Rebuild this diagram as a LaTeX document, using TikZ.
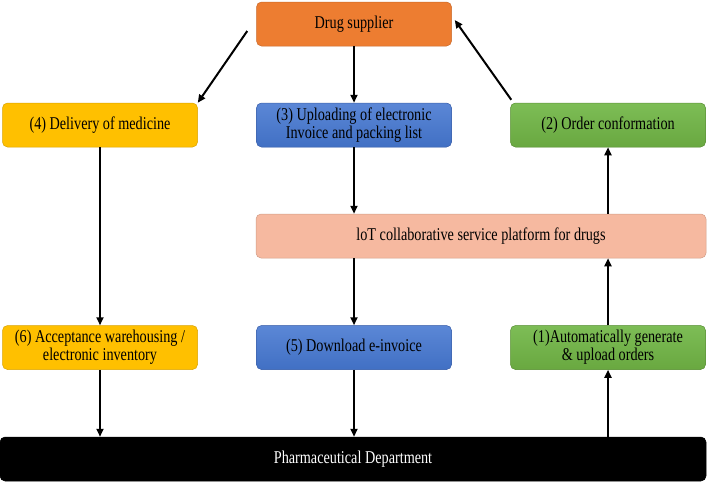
\documentclass[tikz,border=0pt]{standalone}
\usepackage{fontspec}
\setmainfont{Liberation Serif}[FakeStretch=0.79]
\usetikzlibrary{arrows.meta}
\definecolor{corange}{HTML}{ED7D31}
\definecolor{cyellow}{HTML}{FFC000}
\definecolor{cblue}{HTML}{4A74C9}
\definecolor{cbluetop}{HTML}{5B87D6}
\definecolor{cbluebot}{HTML}{4170C4}
\definecolor{cgreen}{HTML}{70AD47}
\definecolor{cgreentop}{HTML}{7DBD56}
\definecolor{cgreenbot}{HTML}{69A840}
\definecolor{csalmon}{HTML}{F6B9A0}
\begin{document}
\begin{tikzpicture}[x=1pt,y=-1pt,
  box/.style={draw=#1!85!black, fill=#1, rounded corners=5pt, minimum width=195pt,
    minimum height=44pt, align=center, inner sep=2pt, line width=0.5pt,
    font=\fontsize{18}{17.7}\selectfont},
  grad/.style 2 args={top color=#1, bottom color=#2},
  arr/.style={-{Triangle[length=8pt,width=7pt]}, line width=2pt}]
\useasboundingbox (0,0) rectangle (708,483);
\node[box=corange] (ds) at (354,24) {Drug supplier};
\node[box=cyellow] (del) at (100,125) {(4) Delivery of medicine};
\node[box=cblue, grad={cbluetop}{cbluebot}] (up) at (354,125) {(3) Uploading of electronic\\Invoice and packing list};
\node[box=cgreen, grad={cgreentop}{cgreenbot}] (oc) at (608,125) {(2) Order conformation};
\node[box=csalmon, minimum width=450pt] (iot) at (481,236) {loT collaborative service platform for drugs};
\node[box=cyellow] (acc) at (100,347.5) {(6) Acceptance warehousing /\\electronic inventory};
\node[box=cblue, grad={cbluetop}{cbluebot}] (dl) at (354,347.5) {(5) Download e-invoice};
\node[box=cgreen, grad={cgreentop}{cgreenbot}] (ag) at (608,347.5) {(1)Automatically generate\\\& upload orders};
\node[box=black, text=white, minimum width=706pt] (pd) at (353,459) {Pharmaceutical Department};
\draw[arr] (ds) -- (up);
\draw[arr] (ds.west) ++(-9,7) -- (del.north east);
\draw[arr] (oc.north west) ++(1,-3) -- ([shift={(3,-4)}]ds.east);
\draw[arr] (up) -- (up |- iot.north);
\draw[arr] (up |- iot.south) -- (dl);
\draw[arr] (del) -- (acc);
\draw[arr] (acc) -- (acc |- pd.north);
\draw[arr] (dl) -- (dl |- pd.north);
\draw[arr] (ag |- pd.north) -- (ag);
\draw[arr] (ag) -- (ag |- iot.south);
\draw[arr] (oc |- iot.north) -- (oc);
\end{tikzpicture}
\end{document}
